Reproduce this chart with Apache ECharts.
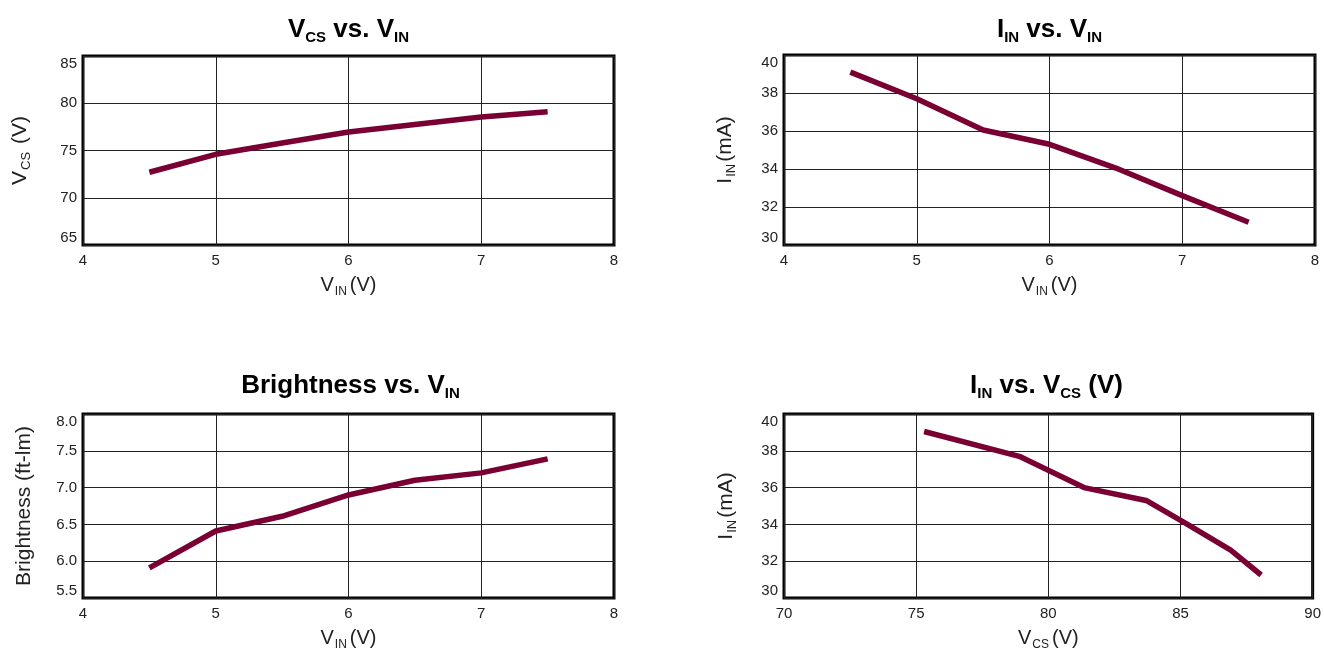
<!DOCTYPE html>
<html>
<head>
<meta charset="utf-8">
<script src="https://cdn.jsdelivr.net/npm/echarts@6/dist/echarts.min.js"></script>
<style>
html,body{margin:0;padding:0;background:#fff;}
#c{width:1324px;height:652px;}
</style>
</head>
<body>
<div id="c"></div>
<script>
// ---- data ----
const vinTicks = [4, 5, 6, 7, 8];
const vin = [4.5, 5.0, 5.5, 6.0, 6.5, 7.0, 7.5];
const vcsVsVin = [72.7, 74.6, 75.8, 76.95, 77.75, 78.55, 79.1];
const iinVsVin = [39.1, 37.7, 36.05, 35.3, 34.05, 32.6, 31.2];
const brightnessVsVin = [5.91, 6.41, 6.61, 6.9, 7.1, 7.2, 7.39];
const vcsForIin = [75.3, 78.9, 81.35, 83.7, 85.2, 86.9, 88.05];
const iinVsVcs = [39.05, 37.7, 36.0, 35.3, 34.05, 32.6, 31.25];

const FONT = "'Liberation Sans', Arial, sans-serif";
const LINE_COLOR = '#7a0034';

const grids = [
  {left: 83, top: 56, width: 531, height: 189},
  {left: 784, top: 55, width: 531, height: 190},
  {left: 83, top: 414, width: 531, height: 186},
  {left: 784, top: 414, width: 531, height: 185}
];

const titleRich = {
  t: {fontSize: 26, fontWeight: 'bold', fontFamily: FONT, color: '#000'},
  s: {fontSize: 15, fontWeight: 'bold', fontFamily: FONT, color: '#000', padding: [15, 0, 0, 0]}
};
const nameRich = {
  n: {fontSize: 20, fontFamily: FONT, color: '#222'},
  s: {fontSize: 12, fontFamily: FONT, color: '#222', padding: [13, 3, 0, 1]}
};
const yNameRich = {
  n: {fontSize: 21, fontFamily: FONT, color: '#222'},
  s: {fontSize: 13, fontFamily: FONT, color: '#222', padding: [13, 2, 0, 1]}
};

const titles = [
  '{t|V}{s|CS}{t| vs. V}{s|IN}',
  '{t|I}{s|IN}{t| vs. V}{s|IN}',
  '{t|Brightness vs. V}{s|IN}',
  '{t|I}{s|IN}{t| vs. V}{s|CS}{t| (V)}'
];
const titleTops = [10, 10, 366, 366];
const titleShift = [-5, -5, -3, -8];

const xNames = ['{n|V}{s|IN}{n|(V)}', '{n|V}{s|IN}{n|(V)}', '{n|V}{s|IN}{n|(V)}', '{n|V}{s|CS}{n|(V)}'];
const yNames = ['{n|V}{s|CS}{n| (V)}', '{n|I}{s|IN}{n|(mA)}', '{n|Brightness (ft-lm)}', '{n|I}{s|IN}{n|(mA)}'];

const xRanges = [[4, 8, 1], [4, 8, 1], [4, 8, 1], [70, 90, 5]];
const yRanges = [[65, 85, 5], [30, 40, 2], [5.5, 8.0, 0.5], [30, 40, 2]];
const yGaps = [50, 46, 48, 45];

const seriesData = [
  vin.map((x, i) => [x, vcsVsVin[i]]),
  vin.map((x, i) => [x, iinVsVin[i]]),
  vin.map((x, i) => [x, brightnessVsVin[i]]),
  vcsForIin.map((x, i) => [x, iinVsVcs[i]])
];

const option = {
  backgroundColor: '#fff',
  animation: false,
  title: grids.map((g, i) => ({
    text: titles[i],
    left: g.left + g.width / 2 + titleShift[i],
    top: titleTops[i],
    textAlign: 'center',
    textStyle: {rich: titleRich}
  })),
  grid: grids.map(g => Object.assign({show: true, borderColor: '#000', borderWidth: 3, backgroundColor: 'transparent'}, g)),
  xAxis: grids.map((g, i) => ({
    gridIndex: i,
    type: 'value',
    min: xRanges[i][0], max: xRanges[i][1], interval: xRanges[i][2],
    name: xNames[i],
    nameLocation: 'middle',
    nameGap: 28,
    nameTextStyle: {rich: nameRich},
    axisLine: {show: false},
    axisTick: {show: false},
    axisLabel: {fontSize: 15, fontFamily: FONT, color: '#222', margin: 8},
    splitLine: {show: true, lineStyle: {color: '#222', width: 1}}
  })),
  yAxis: grids.map((g, i) => ({
    gridIndex: i,
    type: 'value',
    min: yRanges[i][0], max: yRanges[i][1], interval: yRanges[i][2],
    name: yNames[i],
    nameLocation: 'middle',
    nameGap: yGaps[i],
    nameRotate: 90,
    nameTextStyle: {rich: yNameRich},
    axisLine: {show: false},
    axisTick: {show: false},
    axisLabel: {
      fontSize: 15, fontFamily: FONT, color: '#222', margin: 6,
      verticalAlignMaxLabel: 'top',
      verticalAlignMinLabel: 'bottom',
      formatter: i === 2 ? (v => v.toFixed(1)) : (v => String(v))
    },
    splitLine: {show: true, lineStyle: {color: '#222', width: 1}}
  })),
  series: seriesData.map((d, i) => ({
    type: 'line',
    xAxisIndex: i,
    yAxisIndex: i,
    data: d,
    symbol: 'none',
    smooth: false,
    lineStyle: {color: LINE_COLOR, width: 5.5}
  }))
};

const chart = echarts.init(document.getElementById('c'), null, {renderer: 'canvas'});
chart.setOption(option);
</script>
</body>
</html>
